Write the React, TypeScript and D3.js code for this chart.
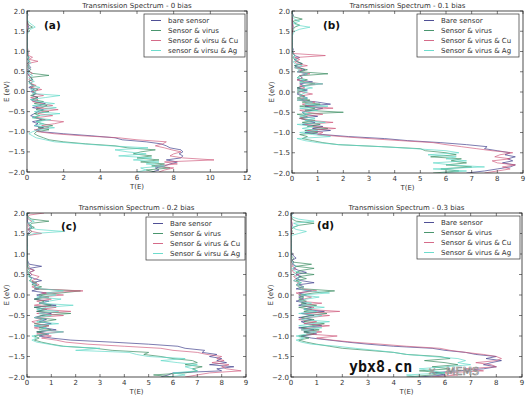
import React from "react";
import * as d3 from "d3";

const W = 527;
const H = 396;

// Energy grid (eV), index 0 = -2.0, step 0.05 up to 2.0
const energy: number[] = d3.range(81).map((i) => Math.round((-2 + i * 0.05) * 100) / 100);

const seriesNamesA = ["bare sensor", "Sensor & virus", "Sensor & virsu & Cu", "sensor & virsu & Ag"];
const seriesNamesB = ["Bare sensor", "Sensor & virus", "Sensor & virus & Cu", "Sensor & virus & Ag"];
const seriesNamesC = ["Bare sensor", "Sensor & virus", "Sensor & virus & Cu", "Sensor & virsu & Ag"];
const seriesNamesD = ["Bare sensor", "Sensor & virus", "Sensor & virus & Cu", "Sensor & virus & Ag"];

const colors = ["#3c3c8a", "#368a5e", "#d05a7c", "#5cd8c6"];

const titles = [
  "Transmission Spectrum - 0 bias",
  "Transmission Spectrum - 0.1 bias",
  "Transmission Spectrum - 0.2 bias",
  "Transmission Spectrum - 0.3 bias",
];
const panelLetters = ["(a)", "(b)", "(c)", "(d)"];
const xMaxes = [12, 9, 9, 9];
const xTickStep = [2, 1, 1, 1];
const yTicks = [-2.0, -1.5, -1.0, -0.5, 0.0, 0.5, 1.0, 1.5, 2.0];

// Panel (a) T(E)
const aBare = [
  6.8, 7.2, 7.0, 7.5, 7.8, 8.2, 7.6, 8.4, 8.5, 8.3,
  8.5, 8.4, 7.8, 7.6, 7.3, 6.5, 5.2, 4.8, 3.5, 2.0,
  0.8, 0.5, 0.9, 0.4, 0.6, 0.3, 0.8, 0.5, 0.2, 0.4,
  0.6, 0.9, 0.3, 0.7, 1.0, 0.4, 0.2, 0.6, 0.3, 0.5,
  0.2, 0.4, 0.1, 0.3, 0.2, 0.1, 0.3, 0.2, 0.1, 0.05,
  0.1, 0.05, 0.2, 0.1, 0.05, 0.1, 0.05, 0.1, 0.05, 0.02,
  0.05, 0.02, 0.01, 0.02, 0.01, 0.01, 0.02, 0.01, 0.02, 0.01,
  0.02, 0.05, 0.1, 0.05, 0.02, 0.01, 0.02, 0.01, 0.05, 0.02,
  0.01,
];
const aVirus = [
  7.0, 6.5, 7.8, 6.8, 7.5, 6.2, 7.2, 6.0, 6.8, 5.8,
  6.2, 7.0, 5.5, 4.8, 3.2, 2.0, 1.2, 0.9, 0.6, 0.4,
  0.5, 1.2, 0.6, 1.4, 0.8, 0.5, 1.0, 0.3, 0.7, 0.4,
  1.2, 0.5, 0.8, 1.1, 0.4, 0.9, 0.3, 0.6, 0.2, 0.5,
  0.3, 0.6, 0.2, 0.4, 0.2, 0.1, 0.3, 0.2, 1.2, 0.3,
  0.1, 0.2, 0.05, 0.1, 0.05, 0.15, 0.05, 0.1, 0.02, 0.05,
  0.02, 0.01, 0.02, 0.01, 0.02, 0.01, 0.01, 0.02, 0.01, 0.01,
  0.02, 0.05, 0.3, 0.1, 0.05, 0.02, 0.01, 0.02, 0.01, 0.02,
  0.01,
];
const aCu = [
  7.2, 7.5, 8.0, 7.0, 8.2, 7.5, 10.2, 8.5, 7.8, 8.0,
  8.4, 7.9, 7.5, 7.0, 7.4, 7.6, 6.0, 5.0, 3.0, 1.5,
  0.6, 0.4, 1.2, 0.8, 1.5, 2.0, 0.9, 0.5, 1.4, 0.6,
  0.8, 1.7, 0.5, 1.4, 0.8, 0.3, 0.6, 0.2, 0.9, 0.4,
  0.3, 0.8, 0.2, 0.5, 0.2, 0.3, 0.1, 0.2, 0.1, 0.3,
  0.1, 0.2, 0.1, 0.05, 0.1, 0.6, 0.1, 0.3, 0.05, 0.1,
  0.02, 0.05, 0.01, 0.02, 0.01, 0.02, 0.01, 0.01, 0.02, 0.01,
  0.02, 0.01, 0.02, 0.05, 0.02, 0.01, 0.02, 0.01, 0.02, 0.01,
  0.01,
];
const aAg = [
  6.0, 6.5, 6.2, 7.5, 6.5, 7.2, 5.8, 6.8, 5.0, 6.5,
  5.5, 4.8, 6.6, 4.5, 3.0, 1.5, 1.0, 0.5, 0.3, 0.1,
  0.3, 0.6, 1.5, 0.4, 0.9, 0.5, 1.3, 0.3, 0.6, 1.8,
  0.4, 0.9, 1.6, 0.3, 1.5, 0.6, 0.2, 1.0, 1.8, 0.3,
  0.5, 0.2, 0.7, 0.3, 0.1, 0.4, 0.2, 0.1, 0.3, 0.1,
  0.05, 0.2, 0.1, 0.05, 0.2, 0.1, 0.05, 0.1, 0.02, 0.05,
  0.02, 0.01, 0.02, 0.01, 0.01, 0.02, 0.01, 0.01, 0.02, 0.05,
  0.1, 0.2, 0.45, 0.3, 0.15, 0.05, 0.02, 0.01, 0.02, 0.01,
  0.02,
];

// Panel (b)
const bBare = [
  6.8, 7.5, 8.0, 8.5, 8.7, 8.2, 8.6, 8.4, 8.7, 8.3,
  8.5, 8.0, 7.5, 7.6, 6.8, 5.8, 4.5, 3.6, 2.2, 1.2,
  0.5, 1.5, 0.8, 1.2, 0.4, 0.9, 0.6, 0.3, 1.0, 0.5,
  0.4, 0.8, 1.2, 0.5, 1.5, 1.0, 0.3, 0.6, 0.4, 0.2,
  0.3, 0.6, 0.2, 0.5, 0.3, 0.8, 0.2, 0.4, 0.3, 0.6,
  0.2, 0.5, 0.3, 0.1, 0.4, 0.2, 0.1, 0.3, 0.1, 0.05,
  0.02, 0.05, 0.02, 0.01, 0.02, 0.01, 0.02, 0.01, 0.02, 0.01,
  0.02, 0.01, 0.05, 0.02, 0.01, 0.02, 0.01, 0.02, 0.05, 0.01,
  0.02,
];
const bVirus = [
  5.5, 6.5, 5.8, 7.0, 6.0, 6.8, 6.2, 6.6, 5.4, 6.4,
  6.0, 5.2, 5.0, 3.5, 1.8, 1.2, 0.8, 0.4, 0.6, 0.3,
  1.0, 0.5, 1.4, 0.6, 1.1, 0.4, 0.9, 0.3, 0.6, 0.2,
  2.0, 0.5, 0.9, 0.3, 1.1, 0.4, 0.7, 0.2, 0.5, 0.3,
  0.2, 0.5, 0.2, 0.4, 0.9, 0.3, 0.6, 0.2, 0.3, 1.4,
  0.3, 0.6, 0.2, 0.1, 0.4, 0.2, 0.1, 0.05, 0.1, 0.05,
  0.02, 0.01, 0.02, 0.01, 0.01, 0.02, 0.01, 0.02, 0.01, 0.01,
  0.02, 0.05, 0.1, 0.3, 0.1, 0.05, 0.4, 0.1, 0.02, 0.01,
  0.01,
];
const bCu = [
  7.5, 8.0, 8.5, 8.2, 8.7, 8.0, 7.8, 8.5, 7.9, 8.1,
  8.6, 7.8, 7.2, 6.6, 6.0, 5.5, 4.2, 3.0, 1.9, 1.0,
  1.2, 0.6, 1.7, 0.8, 0.5, 1.6, 0.7, 0.3, 0.5, 1.2,
  0.6, 0.3, 1.6, 0.7, 0.4, 0.9, 0.2, 0.5, 0.3, 0.8,
  0.4, 0.2, 0.5, 0.3, 1.2, 0.5, 0.2, 0.4, 0.3, 0.7,
  0.2, 0.4, 0.1, 0.6, 0.2, 0.1, 0.3, 0.1, 1.3, 0.05,
  0.02, 0.01, 0.02, 0.01, 0.02, 0.01, 0.01, 0.02, 0.01, 0.01,
  0.02, 0.01, 0.02, 0.05, 0.02, 0.01, 0.02, 0.01, 0.02, 0.01,
  0.01,
];
const bAg = [
  5.8, 6.8, 5.5, 7.5, 6.2, 5.5, 6.8, 6.0, 6.4, 5.3,
  6.5, 6.0, 4.8, 3.5, 1.8, 1.0, 0.5, 0.2, 1.5, 0.8,
  0.3, 1.0, 0.4, 0.8, 0.2, 1.3, 0.5, 0.9, 0.3, 0.6,
  0.4, 1.0, 0.3, 1.4, 0.5, 0.8, 0.2, 0.6, 0.3, 0.4,
  0.6, 0.2, 0.8, 0.4, 1.2, 0.3, 0.5, 0.2, 0.4, 0.6,
  0.2, 0.3, 0.1, 0.4, 0.1, 0.05, 0.2, 0.05, 0.1, 0.02,
  0.02, 0.01, 0.02, 0.01, 0.01, 0.02, 0.01, 0.01, 0.02, 0.05,
  0.1, 0.3, 0.7, 0.2, 0.05, 0.3, 0.1, 0.02, 0.01, 0.02,
  0.01,
];

// Panel (c)
const cBare = [
  5.5, 5.8, 6.0, 8.0, 7.8, 8.5, 7.5, 8.2, 7.8, 8.0,
  7.5, 7.8, 7.2, 7.3, 6.5, 6.2, 5.0, 3.5, 1.8, 1.0,
  0.5, 0.9, 0.4, 1.2, 0.7, 0.3, 1.0, 0.5, 0.8, 0.3,
  0.6, 1.0, 0.4, 0.8, 0.3, 1.2, 0.5, 0.9, 0.3, 0.6,
  0.4, 0.8, 0.2, 0.5, 0.3, 0.4, 0.2, 0.6, 0.3, 0.1,
  0.2, 0.1, 0.3, 0.1, 0.6, 0.1, 0.05, 0.02, 0.01, 0.02,
  0.01, 0.02, 0.01, 0.01, 0.02, 0.01, 0.01, 0.02, 0.01, 0.01,
  0.05, 0.1, 0.05, 0.2, 0.1, 0.05, 0.02, 0.01, 0.02, 0.01,
  0.05,
];
const cVirus = [
  6.0, 5.2, 6.5, 7.0, 6.8, 7.2, 6.5, 7.0, 6.8, 6.0,
  5.5, 4.8, 5.0, 3.5, 2.8, 1.5, 1.0, 0.6, 0.3, 0.5,
  0.3, 0.8, 0.4, 1.0, 0.5, 0.9, 0.3, 0.7, 1.2, 0.4,
  0.6, 1.8, 0.4, 0.8, 0.3, 1.0, 0.5, 0.7, 0.3, 0.9,
  0.5, 1.4, 2.2, 0.3, 0.6, 0.2, 0.4, 0.1, 0.2, 0.1,
  0.1, 0.05, 0.1, 0.05, 0.02, 0.05, 0.01, 0.02, 0.01, 0.01,
  0.01, 0.02, 0.01, 0.01, 0.01, 0.02, 0.01, 0.01, 0.01, 0.02,
  0.1, 0.2, 0.1, 0.3, 0.1, 0.2, 0.9, 0.2, 0.05, 0.02,
  0.05,
];
const cCu = [
  6.5, 7.0, 7.5, 8.8, 8.2, 8.0, 8.3, 7.6, 8.1, 7.8,
  8.0, 7.4, 7.0, 6.0, 5.5, 4.0, 2.5, 1.6, 1.2, 0.6,
  1.0, 0.4, 1.5, 0.6, 0.3, 0.9, 0.4, 0.2, 0.6, 0.3,
  1.5, 0.4, 1.8, 0.6, 1.2, 0.3, 0.7, 0.4, 1.0, 0.5,
  1.5, 0.6, 2.3, 0.4, 0.2, 0.5, 0.3, 0.2, 0.4, 0.5,
  0.2, 0.1, 0.3, 0.05, 0.1, 0.02, 0.01, 0.02, 0.01, 0.01,
  0.01, 0.01, 0.02, 0.01, 0.01, 0.01, 0.02, 0.01, 0.01, 0.01,
  0.6, 0.2, 0.05, 0.1, 0.05, 0.1, 0.2, 0.05, 0.02, 0.1,
  0.7,
];
const cAg = [
  5.8, 6.5, 6.0, 7.0, 6.8, 6.5, 7.0, 6.2, 5.5, 6.5,
  5.0, 4.5, 4.2, 2.0, 3.0, 1.4, 0.9, 0.4, 0.2, 0.4,
  0.2, 0.7, 1.5, 0.5, 0.8, 0.3, 1.3, 0.4, 0.7, 0.3,
  1.0, 0.5, 1.3, 0.4, 0.8, 1.9, 0.5, 0.9, 1.4, 0.4,
  1.2, 0.8, 1.5, 0.6, 0.3, 0.4, 0.2, 0.1, 0.2, 0.05,
  0.1, 0.05, 0.02, 0.1, 0.05, 0.02, 0.01, 0.02, 0.01, 0.01,
  0.01, 0.01, 0.01, 0.02, 0.01, 0.01, 0.01, 0.01, 0.02, 0.01,
  0.3, 1.5, 0.4, 0.1, 0.2, 0.05, 0.3, 0.1, 0.02, 0.01,
  0.02,
];

// Panel (d)
const dBare = [
  5.0, 6.0, 5.5, 6.5, 7.5, 8.0, 7.5, 7.8, 8.2, 7.6,
  8.0, 7.2, 6.8, 6.0, 5.5, 4.0, 3.0, 2.2, 1.5, 0.8,
  0.4, 1.0, 0.5, 0.9, 0.3, 1.2, 0.6, 0.4, 0.8, 0.3,
  0.9, 0.4, 1.3, 0.5, 0.8, 0.3, 0.6, 0.2, 0.5, 0.3,
  0.6, 0.3, 0.8, 0.2, 0.5, 0.3, 0.9, 0.4, 0.2, 0.4,
  0.2, 0.6, 0.3, 0.1, 0.2, 0.05, 0.1, 0.05, 0.2, 0.1,
  0.05, 0.02, 0.01, 0.02, 0.01, 0.01, 0.02, 0.01, 0.01, 0.02,
  0.01, 0.02, 0.01, 0.02, 0.05, 0.02, 0.01, 0.02, 0.01, 0.02,
  0.1,
];
const dVirus = [
  4.5, 5.5, 6.0, 5.0, 6.2, 5.5, 6.5, 6.0, 5.2, 6.2,
  5.8, 4.5, 4.0, 3.0, 2.0, 1.5, 1.0, 0.6, 0.3, 0.7,
  0.3, 0.9, 0.5, 1.1, 0.4, 0.8, 1.3, 0.5, 0.9, 0.4,
  0.7, 1.4, 0.5, 0.8, 0.3, 1.0, 0.4, 0.6, 0.3, 0.5,
  0.3, 0.9, 1.7, 0.5, 0.3, 0.2, 0.4, 0.2, 0.6, 0.3,
  0.9, 0.2, 0.4, 0.9, 0.2, 0.8, 0.1, 0.05, 0.1, 0.02,
  0.01, 0.02, 0.01, 0.01, 0.02, 0.01, 0.01, 0.02, 0.01, 0.01,
  0.02, 0.05, 0.02, 0.1, 0.3, 0.9, 0.2, 0.05, 0.02, 0.01,
  0.02,
];
const dCu = [
  5.5, 6.5, 6.0, 7.5, 6.8, 8.0, 7.8, 7.2, 8.0, 8.2,
  8.0, 7.5, 6.8, 6.2, 5.8, 4.5, 3.5, 2.4, 1.6, 1.0,
  1.8, 0.6, 1.2, 0.4, 0.8, 1.5, 0.5, 1.0, 0.3, 0.7,
  1.5, 0.5, 1.9, 0.6, 0.9, 0.4, 1.2, 0.3, 0.5, 0.8,
  0.4, 0.2, 1.0, 0.3, 0.5, 0.2, 0.3, 0.1, 0.2, 0.1,
  0.3, 0.1, 0.05, 0.2, 0.05, 0.1, 0.02, 0.05, 0.01, 0.02,
  0.01, 0.01, 0.02, 0.01, 0.01, 0.01, 0.02, 0.01, 0.01, 0.01,
  0.02, 0.01, 0.02, 0.01, 0.02, 0.05, 0.02, 0.01, 0.02, 0.01,
  0.01,
];
const dAg = [
  5.0, 4.5, 6.0, 5.5, 5.0, 6.0, 7.0, 6.5, 6.8, 6.5,
  5.5, 4.5, 4.0, 3.3, 2.5, 1.8, 0.8, 0.4, 0.2, 0.5,
  0.2, 0.6, 1.0, 0.4, 1.2, 0.3, 0.8, 1.5, 0.4, 0.7,
  1.2, 0.3, 1.0, 0.5, 1.3, 0.4, 0.8, 0.3, 0.6, 1.1,
  0.4, 1.5, 0.7, 0.3, 0.5, 0.2, 0.4, 0.1, 0.3, 0.2,
  0.1, 0.3, 0.1, 0.05, 0.2, 0.1, 0.05, 0.02, 0.01, 0.02,
  0.01, 0.01, 0.01, 0.02, 0.01, 0.01, 0.01, 0.01, 0.02, 0.01,
  0.3, 0.6, 0.2, 0.05, 0.3, 0.1, 0.9, 0.3, 0.05, 0.02,
  0.05,
];

const panelSeries = [
  [aBare, aVirus, aCu, aAg],
  [bBare, bVirus, bCu, bAg],
  [cBare, cVirus, cCu, cAg],
  [dBare, dVirus, dCu, dAg],
];
const panelNames = [seriesNamesA, seriesNamesB, seriesNamesC, seriesNamesD];

type Box = { l: number; r: number; t: number; b: number };
const boxes: Box[] = [
  { l: 27, r: 247, t: 11, b: 172 },
  { l: 292, r: 523, t: 11, b: 173 },
  { l: 27, r: 246, t: 213, b: 377 },
  { l: 291, r: 522, t: 213, b: 377 },
];
const legendBoxes = [
  { x: 144, y: 14, w: 101, h: 43 },
  { x: 417, y: 14, w: 102, h: 43 },
  { x: 146, y: 217, w: 99, h: 43 },
  { x: 417, y: 216, w: 103, h: 43 },
];
const letterPos = [
  { x: 44, y: 29 },
  { x: 323, y: 29 },
  { x: 61, y: 230 },
  { x: 317, y: 229 },
];

const FONT = "DejaVu Sans, Liberation Sans, sans-serif";
const fmtMinus = (s: string) => s.replace("-", "\u2212");

function Panel({ idx }: { idx: number }) {
  const bx = boxes[idx];
  const x = d3.scaleLinear().domain([0, xMaxes[idx]]).range([bx.l, bx.r]);
  const y = d3.scaleLinear().domain([-2, 2]).range([bx.b, bx.t]);
  const xt = d3.range(0, xMaxes[idx] + 0.001, xTickStep[idx]);
  const line = d3
    .line<number>()
    .x((d) => x(d))
    .y((_, i) => y(energy[i]));
  const clipId = `clip${idx}`;
  const lg = legendBoxes[idx];
  const lp = letterPos[idx];
  const tl = 3;
  return (
    <g>
      <defs>
        <clipPath id={clipId}>
          <rect x={bx.l} y={bx.t} width={bx.r - bx.l} height={bx.b - bx.t} />
        </clipPath>
      </defs>
      <g clipPath={`url(#${clipId})`}>
        {panelSeries[idx].map((s, k) => (
          <path
            key={k}
            d={line(s) || ""}
            fill="none"
            stroke={colors[k]}
            strokeWidth={0.8}
            strokeOpacity={0.85}
            strokeLinejoin="round"
          />
        ))}
      </g>
      <rect
        x={bx.l}
        y={bx.t}
        width={bx.r - bx.l}
        height={bx.b - bx.t}
        fill="none"
        stroke="#222"
        strokeWidth={0.8}
      />
      {xt.map((v) => (
        <g key={"x" + v}>
          <line x1={x(v)} x2={x(v)} y1={bx.b} y2={bx.b - tl} stroke="#222" strokeWidth={0.6} />
          <line x1={x(v)} x2={x(v)} y1={bx.t} y2={bx.t + tl} stroke="#222" strokeWidth={0.6} />
          <text
            x={x(v)}
            y={bx.b + 8}
            fontSize={7}
            fontFamily={FONT}
            fill="#333"
            textAnchor="middle"
          >
            {String(v)}
          </text>
        </g>
      ))}
      {yTicks.map((v) => (
        <g key={"y" + v}>
          <line x1={bx.l} x2={bx.l + tl} y1={y(v)} y2={y(v)} stroke="#222" strokeWidth={0.6} />
          <line x1={bx.r} x2={bx.r - tl} y1={y(v)} y2={y(v)} stroke="#222" strokeWidth={0.6} />
          <text
            x={bx.l - 2}
            y={y(v) + 2.5}
            fontSize={7}
            fontFamily={FONT}
            fill="#333"
            textAnchor="end"
          >
            {fmtMinus(v.toFixed(1))}
          </text>
        </g>
      ))}
      <text
        x={(bx.l + bx.r) / 2}
        y={bx.t - 3}
        fontSize={7}
        fontFamily={FONT}
        fill="#333"
        textAnchor="middle"
      >
        {titles[idx]}
      </text>
      <text
        x={(bx.l + bx.r) / 2}
        y={bx.b + 17}
        fontSize={7}
        fontFamily={FONT}
        fill="#333"
        textAnchor="middle"
      >
        T(E)
      </text>
      <text
        transform={`translate(${bx.l - 18},${(bx.t + bx.b) / 2}) rotate(-90)`}
        fontSize={7}
        fontFamily={FONT}
        fill="#333"
        textAnchor="middle"
      >
        E (eV)
      </text>
      <text x={lp.x} y={lp.y} fontSize={10.5} fontWeight="bold" fontFamily={FONT} fill="#111">
        {panelLetters[idx]}
      </text>
      <rect x={lg.x} y={lg.y} width={lg.w} height={lg.h} fill="#fff" stroke="#333" strokeWidth={0.7} />
      {panelNames[idx].map((n, k) => (
        <g key={n + k}>
          <line
            x1={lg.x + 7}
            x2={lg.x + 17}
            y1={lg.y + 6.5 + k * 10}
            y2={lg.y + 6.5 + k * 10}
            stroke={colors[k]}
            strokeWidth={0.9}
          />
          <text x={lg.x + 24} y={lg.y + 9 + k * 10} fontSize={7} fontFamily={FONT} fill="#333">
            {n}
          </text>
        </g>
      ))}
    </g>
  );
}

export default function App() {
  return (
    <svg
      width={W}
      height={H}
      style={{ position: "absolute", left: 0, top: 0, background: "#fff" }}
    >
      <rect x={0} y={0} width={W} height={H} fill="#fff" />
      {[0, 1, 2, 3].map((i) => (
        <Panel key={i} idx={i} />
      ))}
      <text
        x={349}
        y={372}
        fontSize={15}
        fontWeight="bold"
        fontFamily="DejaVu Sans Mono, monospace"
        fill="#111"
      >
        ybx8.cn
      </text>
      <text x={428} y={375} fontSize={10} fontFamily={FONT} fill="none" stroke="#999" strokeWidth={0.7}>
        ✕
      </text>
      <text
        x={446}
        y={375}
        fontSize={11}
        fontFamily={FONT}
        fill="#fff"
        stroke="#888"
        strokeWidth={0.7}
      >
        MEMS
      </text>
    </svg>
  );
}
